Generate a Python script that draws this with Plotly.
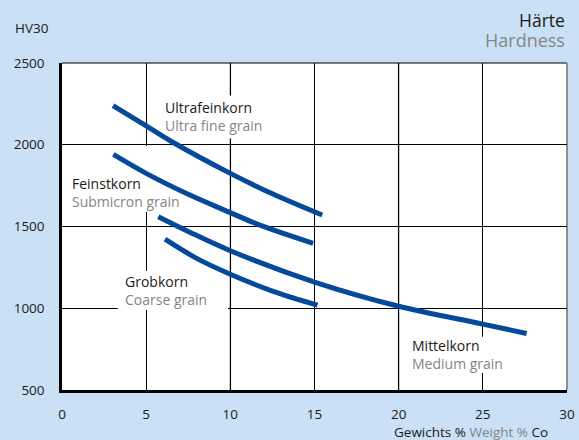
import plotly.graph_objects as go

# Hardness HV30 versus cobalt content (weight %) for four grain classes
ultrafine_co = [3.03, 5.0, 6.5, 10.0, 12.5, 15.46]
ultrafine_hv = [2240, 2115, 2020, 1825, 1700, 1570]

submicron_co = [3.05, 5.0, 7.5, 10.0, 11.76, 14.92]
submicron_hv = [1941, 1825, 1697, 1585, 1508, 1397]

medium_co = [5.72, 7.5, 10.0, 15.0, 20.0, 25.0, 27.6]
medium_hv = [1560, 1470, 1352, 1160, 1012, 903, 846]

coarse_co = [6.12, 8.0, 10.0, 12.5, 15.18]
coarse_hv = [1423, 1305, 1208, 1105, 1019]

# label text (German / English) and anchor points in data units
label_de = ["Ultrafeinkorn", "Feinstkorn", "Grobkorn", "Mittelkorn"]
label_en = ["Ultra fine grain", "Submicron grain", "Coarse grain", "Medium grain"]
label_x = [5.82, 0.3, 3.44, 20.49]
label_y = [2173, 1711, 1111, 716]
# white backing of each label, in pixels relative to its anchor
label_box = [(-2, 96, -22, 21), (-2, 118, -20, 46), (-2, 108, -20, 19), (-2, 100, -18, 18)]

x_ticks = [0, 5, 10, 15, 20, 25, 30]
y_ticks = [500, 1000, 1500, 2000, 2500]

BLUE = "#04499a"
GREY = "#858585"
BG = "#c9e0f5"
FONT = "Open Sans"

fig = go.Figure()
for xs, ys in [(ultrafine_co, ultrafine_hv), (submicron_co, submicron_hv),
               (medium_co, medium_hv), (coarse_co, coarse_hv)]:
    fig.add_trace(go.Scatter(
        x=xs, y=ys, mode="lines",
        line=dict(color=BLUE, width=5, shape="spline", smoothing=1.0),
        hoverinfo="skip", showlegend=False,
    ))

# lighter grid lines at 10 and 20 %, over the regular grid
for gx in [10, 20]:
    fig.add_shape(type="line", xref="x", yref="paper", x0=gx, x1=gx, y0=0, y1=1,
                  line=dict(color="#8c8c8c", width=1.6), layer="between")

# curve labels; white boxes sit above the grid but under the curves
for de, en, lx, ly, (bx0, bx1, by0, by1) in zip(label_de, label_en, label_x,
                                                label_y, label_box):
    fig.add_shape(type="rect", xref="x", yref="y",
                  xsizemode="pixel", xanchor=lx, x0=bx0, x1=bx1,
                  ysizemode="pixel", yanchor=ly, y0=by0, y1=by1,
                  fillcolor="white", line=dict(width=0), layer="between")
    fig.add_annotation(
        x=lx, y=ly, xref="x", yref="y", xanchor="left", yanchor="middle",
        text=f"{de}<br><span style='color:{GREY}'>{en}</span>",
        align="left", showarrow=False, borderpad=4,
        font=dict(family=FONT, size=14, color="#1a1a1a"),
    )

# titles
fig.add_annotation(x=1.0, y=1.133, xref="paper", yref="paper", xanchor="right",
                   yanchor="middle", text="Härte", showarrow=False,
                   font=dict(family=FONT, size=17.5, color="#1a1a1a"))
fig.add_annotation(x=1.0, y=1.070, xref="paper", yref="paper", xanchor="right",
                   yanchor="middle", text="Hardness", showarrow=False,
                   font=dict(family=FONT, size=18, color=GREY))
fig.add_annotation(x=-0.097, y=1.107, xref="paper", yref="paper", xanchor="left",
                   yanchor="middle", text="HV30", showarrow=False,
                   font=dict(family=FONT, size=13.5, color="#1a1a1a"))
fig.add_annotation(x=0.966, y=-0.128, xref="paper", yref="paper", xanchor="right",
                   yanchor="middle",
                   text=f"Gewichts % <span style='color:{GREY}'>Weight %</span> Co",
                   showarrow=False,
                   font=dict(family=FONT, size=13.5, color="#1a1a1a"))

# top and right frame
fig.add_shape(type="line", xref="paper", yref="paper", x0=0, x1=1, y0=1, y1=1,
              line=dict(color="black", width=1.2), layer="between")
fig.add_shape(type="line", xref="paper", yref="paper", x0=1, x1=1, y0=0, y1=1,
              line=dict(color="#7a7a7a", width=1.6), layer="between")
# small overshoot of both axes at the origin
fig.add_shape(type="line", xref="x", yref="y", xsizemode="pixel", xanchor=0,
              x0=-6, x1=0, y0=500, y1=500, line=dict(color="black", width=2.5))
fig.add_shape(type="line", xref="x", yref="y", ysizemode="pixel", yanchor=500,
              x0=0, x1=0, y0=-7, y1=0, line=dict(color="black", width=2.5))

fig.update_xaxes(
    range=[0, 30], tickvals=x_ticks, ticktext=[str(v) for v in x_ticks],
    showgrid=True, gridcolor="black", gridwidth=1,
    showline=True, linecolor="black", linewidth=2.5, zeroline=False,
    ticks="", ticklabelstandoff=10, automargin=False,
    tickfont=dict(family=FONT, size=13.5, color="#1a1a1a"),
)
fig.update_yaxes(
    range=[500, 2500], tickvals=y_ticks, ticktext=[str(v) for v in y_ticks],
    showgrid=True, gridcolor="black", gridwidth=1,
    showline=True, linecolor="black", linewidth=2.5, zeroline=False,
    ticks="", ticklabelstandoff=12, automargin=False,
    tickfont=dict(family=FONT, size=13.5, color="#1a1a1a"),
)

fig.update_layout(
    width=579, height=440,
    margin=dict(l=62, r=12, t=63, b=50),
    paper_bgcolor=BG, plot_bgcolor="white",
    showlegend=False,
)

fig.write_html("out.html")
